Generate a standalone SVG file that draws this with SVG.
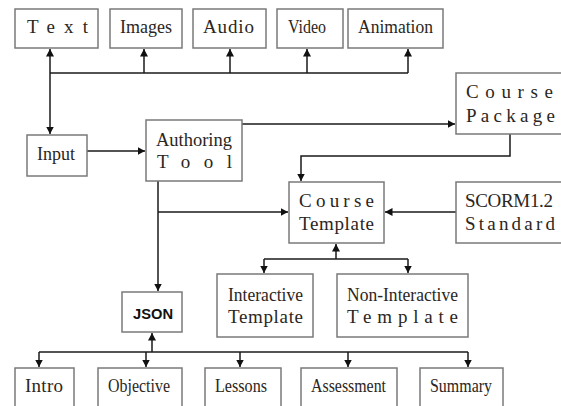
<svg xmlns="http://www.w3.org/2000/svg" width="561" height="406" viewBox="0 0 561 406">
  <defs>
    <style>
      .box { fill: #ffffff; stroke: #7a7a7a; stroke-width: 1.5; }
      .wire { fill: none; stroke: #1a1a1a; stroke-width: 1.5; }
      .lbl { font-family: "Liberation Serif", "Times New Roman", serif; font-size: 19px; fill: #2b2622; }
      .json { font-family: "Liberation Sans", Arial, sans-serif; font-size: 14.5px; font-weight: bold; fill: #111111; }
    </style>
    <marker id="arrow" markerUnits="userSpaceOnUse" markerWidth="9" markerHeight="9" refX="7.5" refY="4" orient="auto-start-reverse">
      <path d="M0,0 L7.5,4 L0,8 z" fill="#111111"/>
    </marker>
  </defs>
  <rect width="561" height="406" fill="#ffffff"/>

  <!-- connectors -->
  <g id="connectors" class="wire">
    <!-- media inputs -->
    <path d="M50,49 V134" marker-start="url(#arrow)" marker-end="url(#arrow)"/>
    <path d="M50,73 H408"/>
    <path d="M144,73 V49" marker-end="url(#arrow)"/>
    <path d="M230,73 V49" marker-end="url(#arrow)"/>
    <path d="M307,73 V49" marker-end="url(#arrow)"/>
    <path d="M408,73 V49" marker-end="url(#arrow)"/>
    <!-- input to authoring tool -->
    <path d="M87,151 H145" marker-end="url(#arrow)"/>
    <!-- authoring tool to course package -->
    <path d="M242,124 H455" marker-end="url(#arrow)"/>
    <!-- course package to course template -->
    <path d="M510,134 V156 H301 V181" marker-end="url(#arrow)"/>
    <!-- SCORM to course template -->
    <path d="M456,212 H385" marker-end="url(#arrow)"/>
    <!-- authoring tool down to JSON and template -->
    <path d="M158,181 V291" marker-end="url(#arrow)"/>
    <path d="M158,212 H288" marker-end="url(#arrow)"/>
    <!-- template variants -->
    <path d="M336,259 V244" marker-end="url(#arrow)"/>
    <path d="M264,259 H408"/>
    <path d="M264,259 V273" marker-end="url(#arrow)"/>
    <path d="M408,259 V273" marker-end="url(#arrow)"/>
    <!-- JSON sections -->
    <path d="M152,352 V333" marker-end="url(#arrow)"/>
    <path d="M39,352 H468"/>
    <path d="M39,352 V367" marker-end="url(#arrow)"/>
    <path d="M146,352 V367" marker-end="url(#arrow)"/>
    <path d="M240,352 V367" marker-end="url(#arrow)"/>
    <path d="M348,352 V367" marker-end="url(#arrow)"/>
    <path d="M468,352 V367" marker-end="url(#arrow)"/>
  </g>

  <!-- media nodes -->
  <g id="text">
    <rect class="box" x="15" y="9" width="83" height="39"/>
    <text class="lbl" x="27" y="33" textLength="61" lengthAdjust="spacing">Text</text>
  </g>
  <g id="images">
    <rect class="box" x="110" y="9" width="72" height="39"/>
    <text class="lbl" x="120" y="33" textLength="52" lengthAdjust="spacingAndGlyphs">Images</text>
  </g>
  <g id="audio">
    <rect class="box" x="193" y="9" width="73" height="39"/>
    <text class="lbl" x="203" y="33" textLength="51" lengthAdjust="spacing">Audio</text>
  </g>
  <g id="video">
    <rect class="box" x="277" y="9" width="66" height="39"/>
    <text class="lbl" x="288" y="33" textLength="38" lengthAdjust="spacingAndGlyphs">Video</text>
  </g>
  <g id="animation">
    <rect class="box" x="348" y="9" width="95" height="39"/>
    <text class="lbl" x="358" y="33" textLength="75" lengthAdjust="spacingAndGlyphs">Animation</text>
  </g>

  <g id="input">
    <rect class="box" x="27" y="135" width="60" height="41"/>
    <text class="lbl" x="37" y="160" textLength="38" lengthAdjust="spacingAndGlyphs">Input</text>
  </g>
  <g id="authoring-tool">
    <rect class="box" x="146" y="120" width="96" height="61"/>
    <text class="lbl" x="156" y="146" textLength="76" lengthAdjust="spacingAndGlyphs">Authoring</text>
    <text class="lbl" x="157" y="168" textLength="75" lengthAdjust="spacing">Tool</text>
  </g>
  <g id="course-package">
    <rect class="box" x="456" y="73" width="110" height="61"/>
    <text class="lbl" x="466" y="98" textLength="87" lengthAdjust="spacing">Course</text>
    <text class="lbl" x="466" y="122" textLength="89" lengthAdjust="spacing">Package</text>
  </g>
  <g id="course-template">
    <rect class="box" x="289" y="182" width="95" height="61"/>
    <text class="lbl" x="299" y="207" textLength="75" lengthAdjust="spacing">Course</text>
    <text class="lbl" x="299" y="230" textLength="75" lengthAdjust="spacing">Template</text>
  </g>
  <g id="scorm-standard">
    <rect class="box" x="456" y="182" width="110" height="61"/>
    <text class="lbl" x="465" y="207" textLength="88" lengthAdjust="spacing">SCORM1.2</text>
    <text class="lbl" x="465" y="230" textLength="90" lengthAdjust="spacing">Standard</text>
  </g>
  <g id="json">
    <rect class="box" x="122" y="292" width="60" height="40"/>
    <text class="json" x="133" y="319" textLength="40" lengthAdjust="spacingAndGlyphs">JSON</text>
  </g>
  <g id="interactive-template">
    <rect class="box" x="217" y="274" width="96" height="63"/>
    <text class="lbl" x="228" y="301" textLength="75" lengthAdjust="spacingAndGlyphs">Interactive</text>
    <text class="lbl" x="228" y="323" textLength="75" lengthAdjust="spacing">Template</text>
  </g>
  <g id="non-interactive-template">
    <rect class="box" x="337" y="274" width="131" height="63"/>
    <text class="lbl" x="347" y="301" textLength="111" lengthAdjust="spacingAndGlyphs">Non-Interactive</text>
    <text class="lbl" x="347" y="323" textLength="111" lengthAdjust="spacing">Template</text>
  </g>

  <!-- course sections -->
  <g id="intro">
    <rect class="box" x="15" y="368" width="59" height="50"/>
    <text class="lbl" x="25" y="392" textLength="38" lengthAdjust="spacing">Intro</text>
  </g>
  <g id="objective">
    <rect class="box" x="98" y="368" width="84" height="50"/>
    <text class="lbl" x="108" y="392" textLength="62" lengthAdjust="spacingAndGlyphs">Objective</text>
  </g>
  <g id="lessons">
    <rect class="box" x="205" y="368" width="76" height="50"/>
    <text class="lbl" x="215" y="392" textLength="52" lengthAdjust="spacingAndGlyphs">Lessons</text>
  </g>
  <g id="assessment">
    <rect class="box" x="301" y="368" width="96" height="50"/>
    <text class="lbl" x="311" y="392" textLength="75" lengthAdjust="spacingAndGlyphs">Assessment</text>
  </g>
  <g id="summary">
    <rect class="box" x="420" y="368" width="83" height="50"/>
    <text class="lbl" x="430" y="392" textLength="62" lengthAdjust="spacingAndGlyphs">Summary</text>
  </g>
</svg>
